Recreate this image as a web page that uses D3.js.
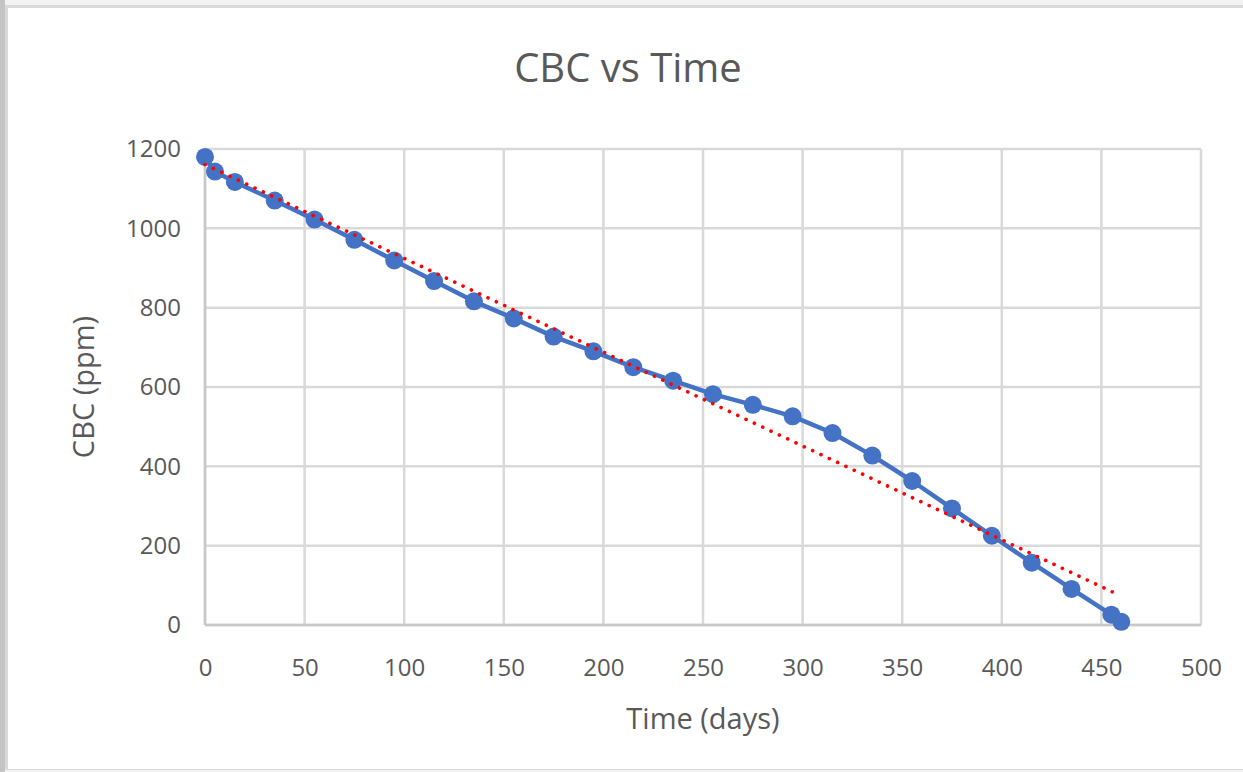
<!DOCTYPE html>
<html>
<head>
<meta charset="utf-8">
<script src="https://cdn.jsdelivr.net/npm/d3@7"></script>
<style>
  html, body { margin: 0; padding: 0; background: #fff; }
  svg text { font-family: "Open Sans", "Noto Sans", sans-serif; fill: #595959; }
</style>
</head>
<body>
<div id="chart"></div>
<script>
// Data
const timeDays = [0, 5, 15, 35, 55, 75, 95, 115, 135, 155, 175, 195, 215, 235, 255, 275, 295, 315, 335, 355, 375, 395, 415, 435, 455, 460];
const cbcPpm = [1180, 1143, 1117, 1070, 1022, 971, 919, 867, 816, 773, 727, 690, 650, 616, 582, 555, 526, 484, 427, 363, 294, 225, 157, 91, 26, 8];
const xTicks = [0, 50, 100, 150, 200, 250, 300, 350, 400, 450, 500];
const yTicks = [0, 200, 400, 600, 800, 1000, 1200];
const trendRange = [0, 459];

const width = 1243;
const height = 772;
const margin = { top: 149, right: 42, bottom: 147, left: 205 };

const points = timeDays.map((t, i) => ({ t: t, v: cbcPpm[i] }));

const svg = d3.select("#chart")
    .append("svg")
    .attr("width", width)
    .attr("height", height);

// frame, like a pasted screenshot
svg.append("rect").attr("x", 0).attr("y", 0).attr("width", width).attr("height", height).attr("fill", "#f2f2f2");
svg.append("rect").attr("x", 0).attr("y", 0).attr("width", 5).attr("height", height).attr("fill", "#c4c4c4");
svg.append("rect").attr("x", 5).attr("y", 5).attr("width", width - 5).attr("height", height - 7).attr("fill", "#d9d9d9");
svg.append("rect").attr("x", 8).attr("y", 8).attr("width", width - 8).attr("height", height - 11).attr("fill", "#fff");

const xScale = d3.scaleLinear()
    .domain([0, 500])
    .range([margin.left, width - margin.right]);

const yScale = d3.scaleLinear()
    .domain([0, 1200])
    .range([height - margin.bottom, margin.top]);

// grid
svg.append("g")
    .selectAll("line")
    .data(xTicks)
    .join("line")
    .attr("x1", d => xScale(d)).attr("x2", d => xScale(d))
    .attr("y1", yScale(1200)).attr("y2", yScale(0))
    .attr("stroke", "#d9d9d9")
    .attr("stroke-width", 2.5);

svg.append("g")
    .selectAll("line")
    .data(yTicks)
    .join("line")
    .attr("x1", xScale(0)).attr("x2", xScale(500))
    .attr("y1", d => yScale(d)).attr("y2", d => yScale(d))
    .attr("stroke", "#d9d9d9")
    .attr("stroke-width", 2.5);

// axis lines
svg.append("line")
    .attr("x1", xScale(0)).attr("x2", xScale(500))
    .attr("y1", yScale(0)).attr("y2", yScale(0))
    .attr("stroke", "#c8c8c8").attr("stroke-width", 2.5);
svg.append("line")
    .attr("x1", xScale(0)).attr("x2", xScale(0))
    .attr("y1", yScale(0)).attr("y2", yScale(1200))
    .attr("stroke", "#c8c8c8").attr("stroke-width", 2.5);

// tick labels via axes
const xAxis = d3.axisBottom(xScale).tickValues(xTicks).tickFormat(d3.format("d")).tickSize(0).tickPadding(34);
const yAxis = d3.axisLeft(yScale).tickValues(yTicks).tickFormat(d3.format("d")).tickSize(0).tickPadding(24);

svg.append("g")
    .attr("transform", `translate(0,${yScale(0)})`)
    .call(xAxis)
    .call(g => g.select(".domain").remove());

svg.append("g")
    .attr("transform", `translate(${xScale(0)},0)`)
    .call(yAxis)
    .call(g => g.select(".domain").remove());

svg.selectAll(".tick text")
    .style("font-family", "\"Open Sans\", \"Noto Sans\", sans-serif")
    .style("font-size", "24px")
    .attr("fill", "#595959");

// data line and markers
svg.append("path")
    .datum(points)
    .attr("fill", "none")
    .attr("stroke", "#4472C4")
    .attr("stroke-width", 4.5)
    .attr("stroke-linejoin", "round")
    .attr("d", d3.line().x(d => xScale(d.t)).y(d => yScale(d.v)));

svg.append("g")
    .selectAll("circle")
    .data(points)
    .join("circle")
    .attr("cx", d => xScale(d.t))
    .attr("cy", d => yScale(d.v))
    .attr("r", 9)
    .attr("fill", "#4472C4");

// linear trendline (least squares)
const meanT = d3.mean(points, d => d.t);
const meanV = d3.mean(points, d => d.v);
const slope = d3.sum(points, d => (d.t - meanT) * (d.v - meanV)) / d3.sum(points, d => (d.t - meanT) ** 2);
const intercept = meanV - slope * meanT;

svg.append("line")
    .attr("x1", xScale(trendRange[0]))
    .attr("y1", yScale(intercept + slope * trendRange[0]))
    .attr("x2", xScale(trendRange[1]))
    .attr("y2", yScale(intercept + slope * trendRange[1]))
    .attr("stroke", "#FF0000")
    .attr("stroke-width", 3.6)
    .attr("stroke-linecap", "round")
    .attr("stroke-dasharray", "0.1,9.1");

// titles
svg.append("text")
    .attr("x", 628)
    .attr("y", 82)
    .attr("text-anchor", "middle")
    .style("font-size", "40px")
    .text("CBC vs Time");

svg.append("text")
    .attr("x", xScale(250))
    .attr("y", 729)
    .attr("text-anchor", "middle")
    .style("font-size", "29px")
    .text("Time (days)");

svg.append("text")
    .attr("transform", `translate(94,${yScale(600)}) rotate(-90)`)
    .attr("text-anchor", "middle")
    .style("font-size", "29px")
    .text("CBC (ppm)");
</script>
</body>
</html>
